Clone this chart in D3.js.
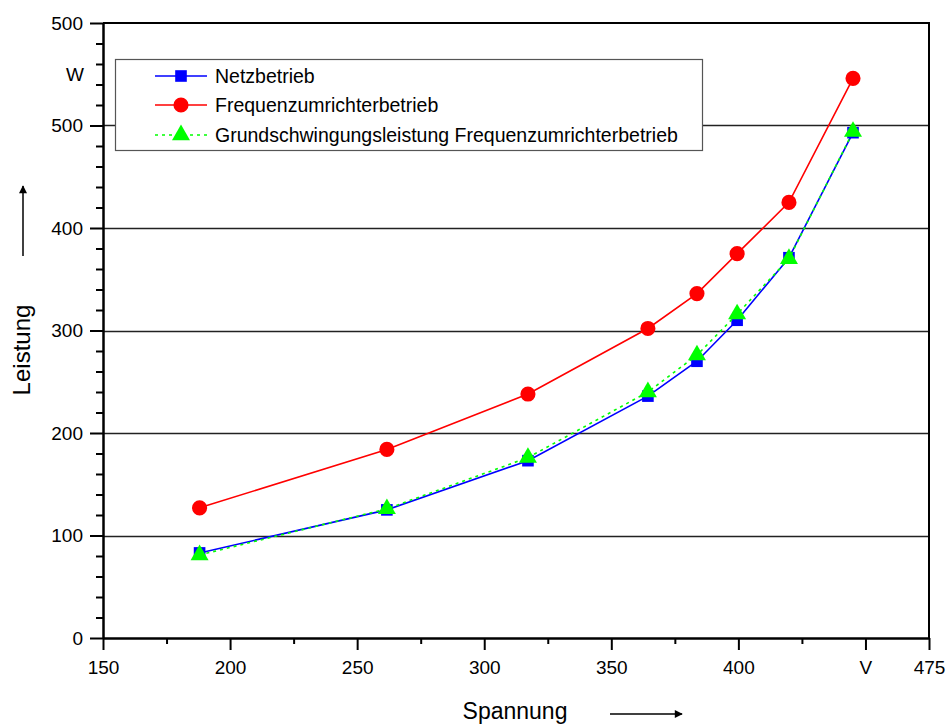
<!DOCTYPE html>
<html>
<head>
<meta charset="utf-8">
<script src="https://cdn.jsdelivr.net/npm/d3@7"></script>
<style>
  body { margin: 0; background: #fff; }
  svg text { font-family: "Liberation Sans", Arial, sans-serif; fill: #000; }
</style>
</head>
<body>
<div id="container"></div>
<script>
// values
var spannung = [188, 261.7, 317.2, 364.4, 383.7, 399.5, 419.9, 445.1];
var netz = [83, 125, 173, 236, 270, 310, 371, 493];
var fu = [127, 184, 238, 302, 336, 375, 425, 546];
var grund = [81, 126, 176, 240, 276, 316, 370, 494];

var seriesNames = ["Netzbetrieb", "Frequenzumrichterbetrieb", "Grundschwingungsleistung Frequenzumrichterbetrieb"];

var xTicks = [150, 200, 250, 300, 350, 400, 450, 475];
var xTickLabels = ["150", "200", "250", "300", "350", "400", "V", "475"];
var yTicks = [0, 100, 200, 300, 400, 500, 600];
var yTickLabels = ["0", "100", "200", "300", "400", "500", "500"];
var gridValues = [100, 200, 300, 400, 500];

var W = 947, H = 726;
var margin = {left: 103, top: 23, right: 18, bottom: 88};
var iw = W - margin.left - margin.right;
var ih = H - margin.top - margin.bottom;

var svg = d3.select("div#container")
  .append("svg")
  .attr("width", W)
  .attr("height", H);

var x = d3.scaleLinear().domain([150, 475]).range([0, iw]);
var y = d3.scaleLinear().domain([0, 600]).range([ih, 0]);

var defs = svg.append("defs");
defs.append("marker")
  .attr("id", "arrow")
  .attr("viewBox", "0 0 10 10")
  .attr("refX", 9).attr("refY", 5)
  .attr("markerWidth", 15).attr("markerHeight", 8)
  .attr("markerUnits", "userSpaceOnUse")
  .attr("orient", "auto")
  .append("path")
  .attr("d", "M0,0 L10,5 L0,10 z")
  .attr("fill", "#000");

var g = svg.append("g").attr("transform", "translate(" + margin.left + "," + margin.top + ")");

// gridlines
g.selectAll(".grid")
  .data(gridValues)
  .enter().append("line")
  .attr("x1", 0).attr("x2", iw)
  .attr("y1", function(d) { return Math.round(y(d)) + 0.5; })
  .attr("y2", function(d) { return Math.round(y(d)) + 0.5; })
  .attr("stroke", "#222")
  .attr("stroke-width", 1.3);

// frame (top + right)
g.append("path")
  .attr("d", "M0,0 H" + iw + " V" + ih)
  .attr("fill", "none")
  .attr("stroke", "#000")
  .attr("stroke-width", 2);

// x axis
var xMinor = d3.range(175, 450, 50);
g.append("g")
  .attr("transform", "translate(0," + ih + ")")
  .call(d3.axisBottom(x).tickValues(xMinor).tickSize(6).tickFormat(""))
  .call(function(a) { a.select(".domain").remove(); a.selectAll("line").attr("stroke-width", 2); });

var xAxis = g.append("g")
  .attr("transform", "translate(0," + ih + ")")
  .call(d3.axisBottom(x).tickValues(xTicks).tickSize(12).tickSizeOuter(0)
    .tickFormat(function(d, i) { return xTickLabels[i]; }));
xAxis.select(".domain").attr("stroke-width", 2.5);
xAxis.selectAll("line").attr("stroke-width", 2);
xAxis.selectAll("text").attr("font-size", 19).attr("dy", "1.1em");

// y axis
var yMinor = d3.range(0, 601, 20).filter(function(v) { return v % 100 !== 0; });
g.append("g")
  .call(d3.axisLeft(y).tickValues(yMinor).tickSize(7).tickFormat(""))
  .call(function(a) { a.select(".domain").remove(); a.selectAll("line").attr("stroke-width", 2); });

var yAxis = g.append("g")
  .call(d3.axisLeft(y).tickValues(yTicks).tickSize(13).tickSizeOuter(0)
    .tickFormat(function(d, i) { return yTickLabels[i]; }));
yAxis.select(".domain").attr("stroke-width", 2.5);
yAxis.selectAll("line").attr("stroke-width", 2);
yAxis.selectAll("text").attr("font-size", 19).attr("x", -20).attr("dy", "0.33em");

// unit label W
g.append("text")
  .attr("x", -19).attr("y", y(550))
  .attr("dy", "0.35em")
  .attr("text-anchor", "end")
  .attr("font-size", 19)
  .text("W");

// axis titles
svg.append("text")
  .attr("transform", "translate(30,350) rotate(-90)")
  .attr("text-anchor", "middle")
  .attr("font-size", 24)
  .text("Leistung");
svg.append("line")
  .attr("x1", 23).attr("y1", 256).attr("x2", 23).attr("y2", 186)
  .attr("stroke", "#000").attr("stroke-width", 1.5)
  .attr("marker-end", "url(#arrow)");

svg.append("text")
  .attr("x", 515).attr("y", 719)
  .attr("text-anchor", "middle")
  .attr("font-size", 23)
  .text("Spannung");
svg.append("line")
  .attr("x1", 610).attr("y1", 714).attr("x2", 682).attr("y2", 714)
  .attr("stroke", "#000").attr("stroke-width", 1.5)
  .attr("marker-end", "url(#arrow)");

// legend box
svg.append("rect")
  .attr("x", 115.5).attr("y", 59.5)
  .attr("width", 587).attr("height", 91)
  .attr("fill", "#fff")
  .attr("stroke", "#555")
  .attr("stroke-width", 1.2);

var series = [
  {name: seriesNames[0], values: netz, color: "#0000ff", dash: null, shape: d3.symbolSquare, size: 135},
  {name: seriesNames[1], values: fu, color: "#ff0000", dash: null, shape: d3.symbolCircle, size: 180},
  {name: seriesNames[2], values: grund, color: "#00ff00", dash: "3,4", shape: d3.symbolTriangle, size: 140}
];

var line = d3.line()
  .x(function(d) { return x(d[0]); })
  .y(function(d) { return y(d[1]); });

series.forEach(function(s, si) {
  var pts = spannung.map(function(v, i) { return [v, s.values[i]]; });
  g.append("path")
    .datum(pts)
    .attr("d", line)
    .attr("fill", "none")
    .attr("stroke", s.color)
    .attr("stroke-width", 1.6)
    .attr("stroke-dasharray", s.dash);
  g.selectAll(".pt" + si)
    .data(pts)
    .enter().append("path")
    .attr("d", d3.symbol().type(s.shape).size(s.size))
    .attr("transform", function(d) {
      return "translate(" + x(d[0]) + "," + y(d[1]) + ")";
    })
    .attr("fill", s.color);

  // legend row
  var ly = [76, 105, 135][si];
  svg.append("line")
    .attr("x1", 155).attr("x2", 207).attr("y1", ly).attr("y2", ly)
    .attr("stroke", s.color).attr("stroke-width", 1.6)
    .attr("stroke-dasharray", s.dash);
  svg.append("path")
    .attr("d", d3.symbol().type(s.shape).size(s.size))
    .attr("transform", "translate(181," + ly + ")")
    .attr("fill", s.color);
  svg.append("text")
    .attr("x", 215).attr("y", ly)
    .attr("dy", "0.36em")
    .attr("font-size", 19.5)
    .text(s.name);
});
</script>
</body>
</html>
